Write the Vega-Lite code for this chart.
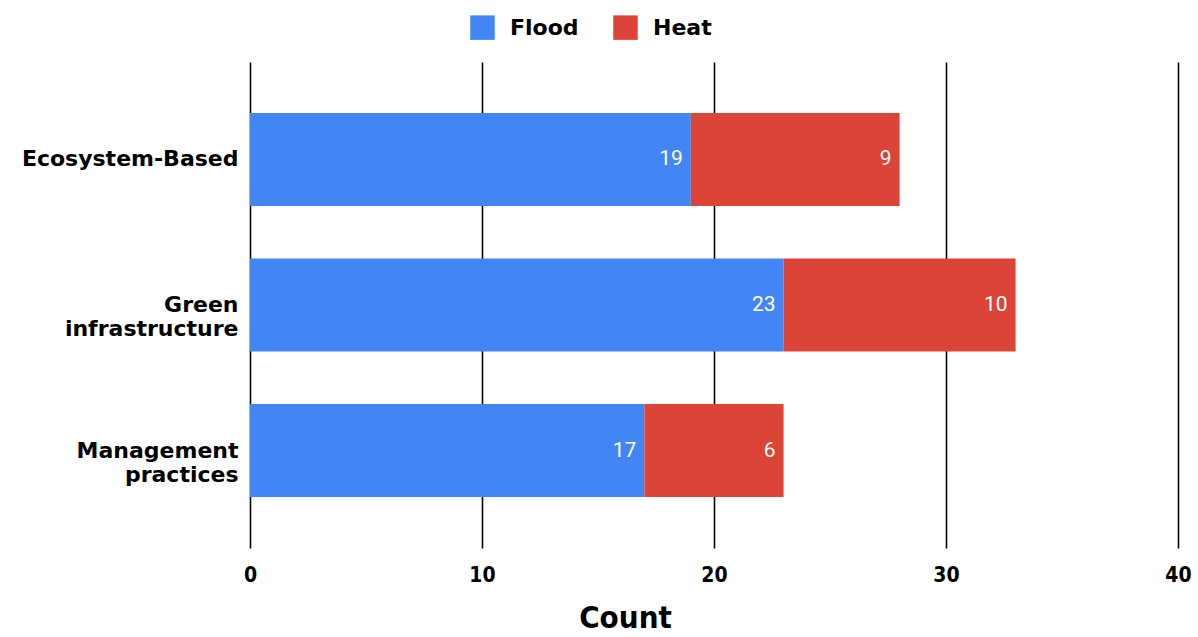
{
  "$schema": "https://vega.github.io/schema/vega-lite/v6.json",
  "autosize": "none",
  "width": 928,
  "height": 486,
  "padding": {"left": 250, "top": 62, "right": 20, "bottom": 89},
  "background": "white",
  "config": {"view": {"stroke": null}},
  "data": {
    "values": [
      {"category": "Ecosystem-Based", "type": "Flood", "count": 19},
      {"category": "Ecosystem-Based", "type": "Heat", "count": 9},
      {"category": "Green infrastructure", "type": "Flood", "count": 23},
      {"category": "Green infrastructure", "type": "Heat", "count": 10},
      {"category": "Management practices", "type": "Flood", "count": 17},
      {"category": "Management practices", "type": "Heat", "count": 6}
    ]
  },
  "transform": [
    {"calculate": "datum.type == 'Flood' ? 0 : 1", "as": "ord"},
    {"stack": "count", "groupby": ["category"], "sort": [{"field": "ord"}], "as": ["x0", "x1"]}
  ],
  "encoding": {
    "y": {
      "field": "category",
      "type": "nominal",
      "sort": ["Ecosystem-Based", "Green infrastructure", "Management practices"],
      "scale": {"paddingInner": 0.36, "paddingOuter": 0.35},
      "axis": {
        "title": null,
        "domain": false,
        "ticks": false,
        "labelFont": "DejaVu Sans",
        "labelFontWeight": "bold",
        "labelFontSize": 22,
        "labelColor": "black",
        "labelPadding": 12,
        "labelLimit": 0,
        "labelLineHeight": 24,
        "labelExpr": "datum.value == 'Ecosystem-Based' ? datum.value : split(datum.value, ' ')"
      }
    }
  },
  "layer": [
    {
      "mark": {"type": "bar"},
      "encoding": {
        "x": {
          "field": "x0",
          "type": "quantitative",
          "scale": {"domain": [0, 40]},
          "axis": {
            "values": [0, 10, 20, 30, 40],
            "grid": true,
            "gridColor": "black",
            "gridWidth": 1.6,
            "gridOpacity": 1,
            "domain": false,
            "ticks": false,
            "labelFlush": false,
            "labelFont": "DejaVu Sans Condensed, Liberation Sans",
            "labelFontWeight": "bold",
            "labelFontSize": 21,
            "labelColor": "black",
            "labelPadding": 16,
            "title": "Count",
            "titleFont": "DejaVu Sans Condensed, Liberation Sans",
            "titleFontWeight": "bold",
            "titleFontSize": 31,
            "titleColor": "black",
            "titleX": 375,
            "titleY": 79,
            "titleBaseline": "alphabetic",
            "titleAlign": "center"
          }
        },
        "x2": {"field": "x1"},
        "color": {
          "field": "type",
          "type": "nominal",
          "scale": {"domain": ["Flood", "Heat"], "range": ["#4285F4", "#DB4437"]},
          "legend": {
            "title": null,
            "orient": "none",
            "direction": "horizontal",
            "legendX": 220,
            "legendY": -47,
            "symbolType": "square",
            "symbolSize": 600,
            "symbolStrokeWidth": 0,
            "symbolOpacity": 1,
            "labelFont": "DejaVu Sans",
            "labelFontWeight": "bold",
            "labelFontSize": 22,
            "labelColor": "black",
            "labelOffset": 15,
            "columnPadding": 34
          }
        }
      }
    },
    {
      "mark": {"type": "text", "align": "right", "baseline": "middle", "dx": -8, "font": "Roboto", "fontSize": 21, "color": "white"},
      "encoding": {
        "x": {"field": "x1", "type": "quantitative"},
        "text": {"field": "count", "type": "quantitative"}
      }
    }
  ]
}
